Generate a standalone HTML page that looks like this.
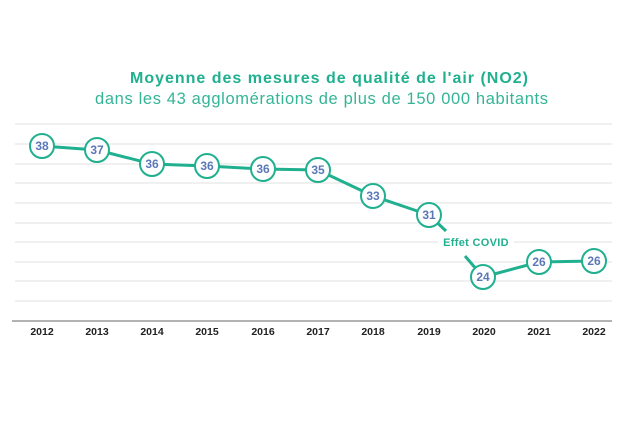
<!DOCTYPE html>
<html><head><meta charset="utf-8"><style>
body{margin:0;background:#fff;}
svg{display:block;font-family:"Liberation Sans",sans-serif;}
</style></head><body>
<svg width="640" height="427" viewBox="0 0 640 427">
<text x="130" y="83" textLength="398" lengthAdjust="spacing" font-size="16" font-weight="bold" fill="#20b08f">Moyenne des mesures de qualité de l'air (NO2)</text>
<text x="95" y="104" textLength="453" lengthAdjust="spacing" font-size="16.5" fill="#35b497">dans les 43 agglomérations de plus de 150 000 habitants</text>
<g stroke="#e2e2e2" stroke-width="1">
<line x1="15" x2="612" y1="124" y2="124"/><line x1="15" x2="612" y1="144" y2="144"/>
<line x1="15" x2="612" y1="164" y2="164"/><line x1="15" x2="612" y1="183" y2="183"/>
<line x1="15" x2="612" y1="203" y2="203"/><line x1="15" x2="612" y1="223" y2="223"/>
<line x1="15" x2="612" y1="242" y2="242"/><line x1="15" x2="612" y1="262" y2="262"/>
<line x1="15" x2="612" y1="281" y2="281"/><line x1="15" x2="612" y1="301" y2="301"/>
</g>
<line x1="12" x2="612" y1="321" y2="321" stroke="#999" stroke-width="1.5"/>
<rect x="438" y="233" width="76" height="18" fill="#fff"/>
<g stroke="#20b08f" stroke-width="3" fill="none">
<polyline points="42,146 97,150 152,164 207,166 263,169 318,170 373,196 429,215"/>
<line x1="429" y1="215" x2="446" y2="231"/>
<line x1="465" y1="256" x2="483" y2="277"/>
<polyline points="483,277 539,262 594,261"/>
</g>
<text x="476" y="246" text-anchor="middle" font-size="11" font-weight="bold" fill="#20b08f" letter-spacing="0.3">Effet COVID</text>
<g stroke="#20b08f" stroke-width="2" fill="#fff">
<circle cx="42" cy="146" r="12"/><circle cx="97" cy="150" r="12"/><circle cx="152" cy="164" r="12"/>
<circle cx="207" cy="166" r="12"/><circle cx="263" cy="169" r="12"/><circle cx="318" cy="170" r="12"/>
<circle cx="373" cy="196" r="12"/><circle cx="429" cy="215" r="12"/><circle cx="483" cy="277" r="12"/>
<circle cx="539" cy="262" r="12"/><circle cx="594" cy="261" r="12"/>
</g>
<g font-size="12" font-weight="bold" fill="#5a78b8" text-anchor="middle">
<text x="42" y="150">38</text><text x="97" y="154">37</text><text x="152" y="168">36</text>
<text x="207" y="170">36</text><text x="263" y="173">36</text><text x="318" y="174">35</text>
<text x="373" y="200">33</text><text x="429" y="219">31</text><text x="483" y="281">24</text>
<text x="539" y="266">26</text><text x="594" y="265">26</text>
</g>
<g font-size="10.5" font-weight="bold" fill="#222" text-anchor="middle">
<text x="42" y="335">2012</text><text x="97" y="335">2013</text><text x="152" y="335">2014</text>
<text x="207" y="335">2015</text><text x="263" y="335">2016</text><text x="318" y="335">2017</text>
<text x="373" y="335">2018</text><text x="429" y="335">2019</text><text x="484" y="335">2020</text>
<text x="539" y="335">2021</text><text x="594" y="335">2022</text>
</g>
</svg>
</body></html>
